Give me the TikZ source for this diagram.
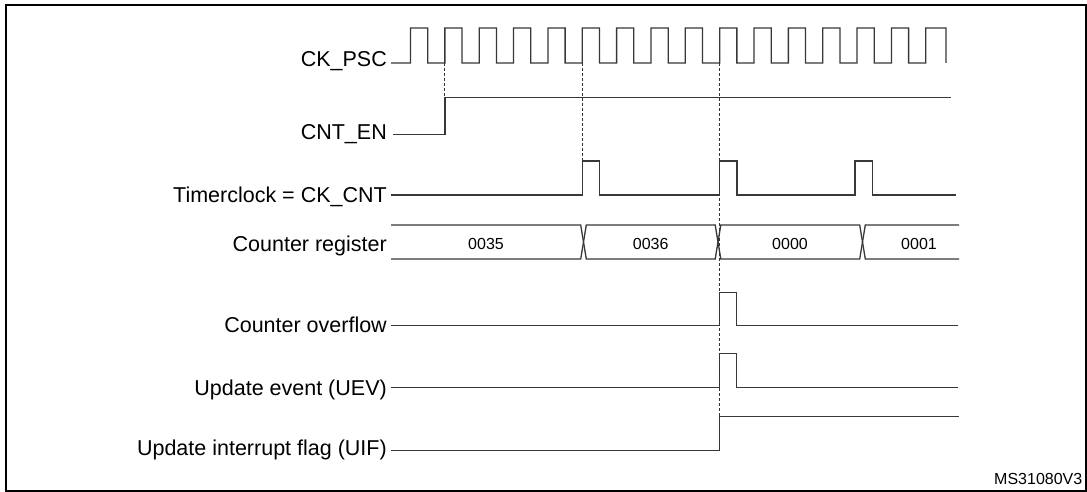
\documentclass[tikz,border=0pt]{standalone}
\usepackage{fontspec}
\setmainfont{Liberation Sans}
\usepackage{tikz}

\begin{document}
\begin{tikzpicture}[x=1pt, y=-1pt,
    sig/.style={line width=1.3pt, black!78},
    guide/.style={line width=0.9pt, black!80, dash pattern=on 3pt off 2pt},
    lbl/.style={anchor=base east, inner sep=0pt, font=\fontsize{21.5}{24}\selectfont},
    val/.style={anchor=base, inner sep=0pt, font=\fontsize{16}{18}\selectfont}]
    \useasboundingbox (0,0) rectangle (1087,492);
    % Frame
    \draw[line width=2pt] (5.5,5.5) rectangle (1085.5,490.8);

    % Signal names
    \node[lbl] (ckpsc) at (387,66.7) {CK\_PSC};
    \node[lbl] (cnten) at (387,140) {CNT\_EN};
    \node[lbl] (ckcnt) at (387,202.3) {Timerclock = CK\_CNT};
    \node[lbl] (cntreg) at (387,251.7) {Counter register};
    \node[lbl] (ovf) at (387,332.3) {Counter overflow};
    \node[lbl] (uev) at (387,395.7) {Update event (UEV)};
    \node[lbl] (uif) at (387,455.7) {Update interrupt flag (UIF)};

    % Prescaler clock
    \draw[sig] (391,63) -- (410.5,63)
        \foreach \k in {0,...,14} {
            -- ({410.5+34.35*\k},28) -- ({410.5+34.35*\k+17.2},28)
            -- ({410.5+34.35*\k+17.2},63) -- ({410.5+34.35*(\k+1)},63)
        }
        -- (925.75,28) -- (946,28) -- (946,63);

    % Counter enable
    \draw[sig] (393,134.3) -- (444.85,134.3) -- (444.85,97.3) -- (950.7,97.3);

    % Counter clock
    \draw[sig] (391,195)
        \foreach \x in {582.25, 719.65, 855} {
            -- (\x,195) -- (\x,161) -- (\x+17.3,161) -- (\x+17.3,195)
        }
        -- (956,195);

    % Counter register bus
    \draw[sig] (391,225) -- (580.7,225) -- (586.3,259) -- (715.2,259) -- (720.8,225)
        -- (859.7,225) -- (865.3,259) -- (959,259);
    \draw[sig] (391,259) -- (580.7,259) -- (586.3,225) -- (715.2,225) -- (720.8,259)
        -- (859.7,259) -- (865.3,225) -- (959,225);
    \node[val] (v35) at (486,249.5) {0035};
    \node[val] (v36) at (650.7,249.5) {0036};
    \node[val] (v00) at (790,249.5) {0000};
    \node[val] (v01) at (919,249.5) {0001};

    % Overflow, update event and flag
    \draw[sig] (391,325.5) -- (719.65,325.5) -- (719.65,292.3) -- (736.5,292.3)
        -- (736.5,325.5) -- (957.7,325.5);
    \draw[sig] (391,387.7) -- (719.65,387.7) -- (719.65,353.3) -- (736.5,353.3)
        -- (736.5,387.7) -- (957.7,387.7);
    \draw[sig] (391,450.7) -- (719.65,450.7) -- (719.65,416.7) -- (959,416.7);

    % Guide lines
    \draw[guide] (444.85,63) -- (444.85,97.3);
    \draw[guide] (582.25,63) -- (582.25,161);
    \draw[guide] (719.65,63) -- (719.65,450.7);

    \node[anchor=base east, inner sep=0pt, font=\fontsize{16}{18}\selectfont] (ms) at (1082.5,484) {MS31080V3};
\end{tikzpicture}
\end{document}
